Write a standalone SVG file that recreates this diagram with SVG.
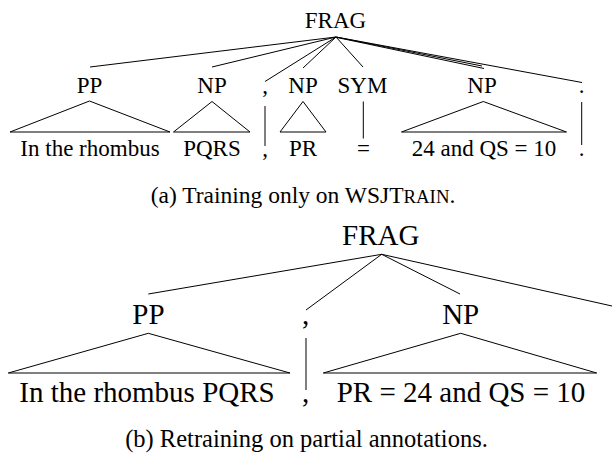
<svg xmlns="http://www.w3.org/2000/svg" width="612" height="457" viewBox="0 0 612 457">
<style>
text{font-family:"Liberation Serif","Times New Roman",serif;fill:#000;text-anchor:middle}
.a{font-size:23px}
.b{font-size:29px}
.cap{font-size:23.5px}
.capb{font-size:24.5px}
line,polyline{stroke:#000;stroke-width:1;fill:none}
</style>
<rect width="612" height="457" fill="#fff"/>
<g id="tree-a">
<g id="connectors-a">
<line x1="336" y1="37" x2="90" y2="67"/>
<line x1="336" y1="37" x2="212" y2="67"/>
<line x1="336" y1="37" x2="265" y2="81.5"/>
<line x1="336" y1="37" x2="303" y2="68"/>
<line x1="336" y1="37" x2="363" y2="67"/>
<line x1="336" y1="37" x2="482" y2="66"/>
<line x1="337" y1="37.5" x2="484" y2="68.5"/>
<line x1="336" y1="37" x2="582" y2="82.5"/>
<polyline points="10,132 89.5,101 170,132"/>
<line x1="10" y1="132" x2="170" y2="132"/>
<polyline points="173.5,132 212,101.5 250,132"/>
<line x1="173.5" y1="132" x2="250" y2="132"/>
<line x1="265" y1="106" x2="265" y2="146"/>
<polyline points="280,132 303,101.5 326,132"/>
<line x1="280" y1="132" x2="326" y2="132"/>
<line x1="363.3" y1="101.5" x2="363.3" y2="138.5"/>
<polyline points="401.5,132 483.3,101.5 566.5,132"/>
<line x1="401.5" y1="132" x2="566.5" y2="132"/>
<line x1="581.7" y1="102" x2="581.7" y2="145"/>
</g>
<g id="a-frag"><text class="a" x="335.5" y="28.3">FRAG</text></g>
<g id="a-pp"><text class="a" x="89.5" y="93">PP</text></g>
<g id="a-np1"><text class="a" x="212" y="93">NP</text></g>
<g id="a-comma"><text class="a" x="265" y="93">,</text></g>
<g id="a-np2"><text class="a" x="303" y="93">NP</text></g>
<g id="a-sym"><text class="a" x="362.5" y="93">SYM</text></g>
<g id="a-np3"><text class="a" x="482" y="93">NP</text></g>
<g id="a-period"><text class="a" x="581.7" y="93">.</text></g>
<g id="a-leaf1"><text class="a" x="90" y="155.5">In the rhombus</text></g>
<g id="a-leaf2"><text class="a" x="212" y="155.5">PQRS</text></g>
<g id="a-leaf3"><text class="a" x="265" y="155.5">,</text></g>
<g id="a-leaf4"><text class="a" x="303" y="155.5">PR</text></g>
<g id="a-leaf5"><text class="a" x="363.5" y="155.5">=</text></g>
<g id="a-leaf6"><text class="a" x="484" y="155.5">24 and QS = 10</text></g>
<g id="a-leaf7"><text class="a" x="581.7" y="155.5">.</text></g>
<g id="caption-a"><text class="cap" x="303" y="203">(a) Training only on WSJT<tspan font-size="18.8px">RAIN</tspan>.</text></g>
</g>
<g id="tree-b">
<g id="connectors-b">
<line x1="381.7" y1="254.3" x2="148.3" y2="294"/>
<line x1="381.7" y1="254.3" x2="306" y2="310"/>
<line x1="381.7" y1="254.3" x2="460" y2="294"/>
<line x1="381.7" y1="254.3" x2="612" y2="306"/>
<polyline points="8.3,373 148.3,333.3 290,373"/>
<line x1="8.3" y1="373" x2="290" y2="373"/>
<line x1="306" y1="338" x2="306" y2="390"/>
<polyline points="323.3,373 460.7,333.3 596.7,373"/>
<line x1="323.3" y1="373" x2="596.7" y2="373"/>
</g>
<g id="b-frag"><text class="b" x="380.7" y="244.5">FRAG</text></g>
<g id="b-pp"><text class="b" x="148.5" y="324">PP</text></g>
<g id="b-comma"><text class="b" x="305.5" y="324">,</text></g>
<g id="b-np"><text class="b" x="460.7" y="324">NP</text></g>
<g id="b-leaf1"><text class="b" x="147" y="402">In the rhombus PQRS</text></g>
<g id="b-leaf2"><text class="b" x="305.5" y="402">,</text></g>
<g id="b-leaf3"><text class="b" x="461" y="402">PR = 24 and QS = 10</text></g>
<g id="caption-b"><text class="capb" x="306.5" y="447">(b) Retraining on partial annotations.</text></g>
</g>
</svg>
